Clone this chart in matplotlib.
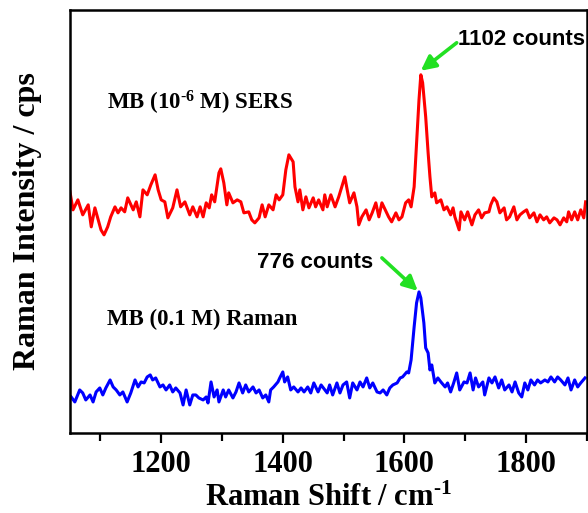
import matplotlib
matplotlib.use("Agg")
import matplotlib.pyplot as plt
from matplotlib.ticker import MultipleLocator

plt.rcParams['font.family'] = ['Liberation Serif', 'DejaVu Serif']
plt.rcParams['mathtext.fontset'] = 'custom'
plt.rcParams['mathtext.rm'] = 'Liberation Serif:bold'
plt.rcParams['mathtext.bf'] = 'Liberation Serif:bold'
plt.rcParams['mathtext.default'] = 'rm'

# SERS spectrum, MB 1e-6 M (offset, arbitrary units)
sers_shift = [1050, 1055, 1063, 1071, 1080, 1085, 1091, 1101, 1106, 1112, 1117, 1124, 1129, 1134,
              1140, 1145, 1154, 1159, 1165, 1170, 1177, 1183, 1190, 1195, 1200, 1206, 1211, 1219,
              1226, 1232, 1239, 1247, 1252, 1259, 1264, 1269, 1274, 1279, 1283, 1288, 1295, 1298,
              1303, 1308, 1311, 1318, 1325, 1331, 1336, 1344, 1349, 1354, 1361, 1366, 1371, 1377,
              1384, 1389, 1394, 1400, 1405, 1410, 1417, 1420, 1425, 1428, 1433, 1438, 1443, 1450,
              1454, 1459, 1466, 1469, 1473, 1479, 1486, 1492, 1497, 1502, 1505, 1510, 1517, 1522,
              1525, 1530, 1537, 1542, 1547, 1553, 1558, 1563, 1570, 1574, 1579, 1586, 1591, 1596,
              1602, 1607, 1611, 1616, 1620, 1624, 1627, 1630, 1635, 1639, 1642, 1645, 1650, 1653,
              1660, 1665, 1670, 1676, 1680, 1683, 1690, 1693, 1699, 1704, 1711, 1716, 1722, 1727,
              1732, 1739, 1742, 1747, 1752, 1757, 1764, 1768, 1773, 1780, 1785, 1790, 1796, 1801,
              1806, 1813, 1818, 1823, 1829, 1834, 1839, 1846, 1851, 1856, 1862, 1867, 1870, 1875,
              1880, 1885, 1890, 1895, 1898]
sers_int = [241, 223, 233, 218, 228, 206, 225, 203, 198, 206, 216, 226, 220, 225,
            221, 235, 223, 231, 216, 243, 238, 248, 258, 243, 233, 231, 215, 225,
            243, 226, 231, 218, 226, 216, 226, 216, 230, 225, 238, 231, 260, 264,
            250, 228, 240, 230, 233, 231, 220, 221, 213, 210, 215, 228, 216, 228,
            223, 238, 233, 238, 263, 278, 271, 246, 231, 243, 223, 236, 225, 235,
            226, 233, 223, 238, 226, 238, 226, 236, 246, 256, 246, 230, 240, 226,
            208, 216, 223, 213, 220, 230, 216, 230, 221, 216, 211, 220, 213, 216,
            230, 233, 226, 246, 290, 333, 358, 350, 316, 280, 256, 236, 240, 230,
            233, 223, 226, 218, 225, 216, 203, 221, 213, 221, 208, 218, 223, 215,
            220, 221, 228, 235, 231, 220, 225, 213, 216, 226, 213, 218, 221, 223,
            215, 220, 211, 218, 213, 216, 210, 215, 213, 208, 215, 211, 221, 213,
            221, 213, 223, 215, 231]

# normal Raman spectrum, MB 0.1 M
raman_shift = [1052, 1058, 1066, 1071, 1076, 1083, 1088, 1093, 1099, 1104, 1109, 1116, 1121, 1126,
               1132, 1137, 1144, 1150, 1157, 1162, 1167, 1172, 1177, 1182, 1186, 1191, 1198, 1203,
               1208, 1214, 1219, 1224, 1231, 1236, 1241, 1247, 1252, 1257, 1262, 1269, 1274, 1277,
               1282, 1287, 1292, 1295, 1302, 1306, 1311, 1318, 1323, 1328, 1334, 1339, 1344, 1351,
               1356, 1361, 1367, 1372, 1377, 1380, 1385, 1392, 1395, 1400, 1403, 1408, 1413, 1418,
               1425, 1430, 1435, 1441, 1446, 1451, 1458, 1463, 1468, 1473, 1477, 1482, 1489, 1494,
               1499, 1505, 1510, 1515, 1522, 1527, 1532, 1538, 1543, 1548, 1555, 1560, 1565, 1571,
               1576, 1581, 1588, 1593, 1597, 1604, 1607, 1611, 1616, 1620, 1624, 1627, 1632, 1635,
               1639, 1642, 1645, 1650, 1655, 1660, 1667, 1671, 1676, 1681, 1686, 1691, 1698, 1703,
               1708, 1713, 1717, 1722, 1729, 1732, 1739, 1744, 1749, 1755, 1760, 1765, 1772, 1777,
               1782, 1788, 1793, 1798, 1803, 1808, 1814, 1819, 1824, 1831, 1836, 1841, 1847, 1852,
               1857, 1864, 1869, 1874, 1880, 1885, 1890, 1897]
raman_int = [36, 31, 43, 40, 33, 38, 31, 41, 45, 38, 45, 53, 46, 43,
             38, 41, 31, 40, 53, 46, 51, 50, 56, 58, 53, 55, 46, 48,
             43, 48, 41, 45, 40, 28, 43, 28, 38, 38, 35, 33, 36, 30,
             51, 36, 43, 31, 43, 36, 43, 35, 41, 50, 40, 48, 41, 46,
             40, 43, 35, 38, 31, 43, 46, 51, 55, 61, 51, 56, 43, 46,
             41, 45, 41, 46, 40, 50, 41, 48, 44, 40, 48, 38, 50, 40,
             48, 51, 35, 50, 43, 51, 46, 55, 45, 50, 41, 40, 43, 38,
             45, 48, 50, 55, 56, 61, 60, 73, 106, 130, 141, 135, 110, 85,
             80, 63, 68, 50, 55, 51, 46, 50, 41, 50, 60, 43, 51, 50,
             60, 43, 55, 46, 51, 38, 55, 50, 56, 45, 53, 43, 48, 41,
             51, 40, 36, 50, 43, 53, 48, 53, 50, 53, 51, 56, 51, 56,
             53, 48, 55, 43, 53, 46, 50, 55]

labels = ["MB (10$^{\\text{-}6}$ M) SERS", "MB (0.1 M) Raman"]
peak_counts = ["1102 counts", "776 counts"]

fig = plt.figure(figsize=(5.88, 5.13), dpi=100)
ax = fig.add_axes([0.119, 0.156, 0.879, 0.825])

ax.plot(sers_shift, sers_int, color='#ff0000', lw=2.2)
ax.plot(raman_shift, raman_int, color='#0000ff', lw=2.2)

ax.set_xlim(1050, 1900)
ax.set_ylim(0, 423)

ax.xaxis.set_major_locator(MultipleLocator(200))
ax.xaxis.set_minor_locator(MultipleLocator(100))
ax.tick_params(axis='x', which='major', direction='out', length=7, width=1.6,
               labelsize=22, pad=5)
ax.tick_params(axis='x', which='minor', direction='out', length=6, width=1.6)
ax.set_yticks([])
for lab in ax.get_xticklabels():
    lab.set_fontweight('bold')
for sp in ax.spines.values():
    sp.set_linewidth(1.8)

ax.set_xlabel("Raman Shift / cm$^{\\text{-}1}$", fontsize=22, fontweight='bold', labelpad=4)
ax.set_ylabel("Raman Intensity / cps", fontsize=23, fontweight='bold', labelpad=20)

ax.text(1111, 330, labels[0], fontsize=16.5, fontweight='bold', va='center')
ax.text(1111, 113, labels[1], fontsize=16.5, fontweight='bold', va='center')

green = '#22e022'
arrow = dict(arrowstyle='-|>', color=green, lw=2.6, mutation_scale=22, shrinkA=0, shrinkB=0)
ax.annotate("", xy=(1627, 362), xytext=(1686, 390), arrowprops=arrow)
ax.annotate("", xy=(1622, 142), xytext=(1563, 175), arrowprops=arrow)
ax.text(1688, 393, peak_counts[0], family='Liberation Sans', fontsize=16,
        fontweight='bold', va='center')
ax.text(1357, 170, peak_counts[1], family='Liberation Sans', fontsize=16,
        fontweight='bold', va='center')

fig.savefig("out.png", dpi=100)
